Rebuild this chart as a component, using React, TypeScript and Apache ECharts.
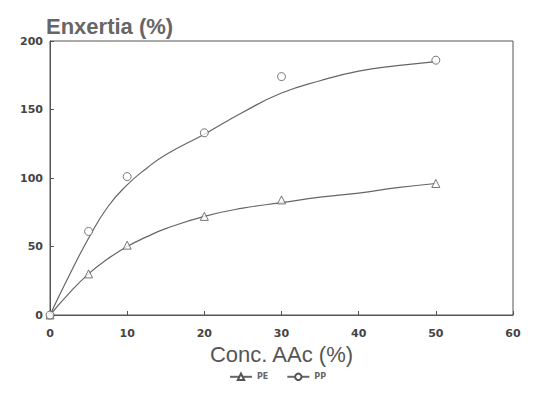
import React, { useEffect, useRef } from "react";
import * as echarts from "echarts";

const conc = [0, 5, 10, 20, 30, 50];
const pe = [0, 30, 51, 72, 84, 96];
const pp = [0, 61, 101, 133, 174, 186];
// fitted curves
const fitX = [0, 2.5, 5, 7.5, 10, 12.5, 15, 20, 25, 30, 35, 40, 45, 50];
const peFit = [0, 16, 30, 41, 50, 57, 63, 72, 78, 82, 86, 89, 93, 96];
const ppFit = [0, 29, 56, 79, 95, 107, 117, 132, 148, 162, 171, 178, 182, 185];

const pair = (xs: number[], ys: number[]) => xs.map((x, i) => [x, ys[i]]);

export default function App() {
  const ref = useRef<HTMLDivElement>(null);
  useEffect(() => {
    if (!ref.current) return;
    const chart = echarts.init(ref.current, undefined, { renderer: "svg" });
    const gray = "#555";
    const labelFont = { fontFamily: "DejaVu Sans", fontSize: 11, fontWeight: "bold", color: "#444" };
    chart.setOption({
      animation: false,
      backgroundColor: "#fff",
      title: {
        text: "Enxertia (%)",
        left: 33,
        top: 2,
        textStyle: { fontFamily: "Liberation Sans, Arial", fontSize: 22, fontWeight: "bold", color: "#666" },
      },
      legend: {
        bottom: 2,
        left: 216,
        itemWidth: 22,
        itemHeight: 8,
        itemGap: 18,
        textStyle: { fontFamily: "DejaVu Sans", fontSize: 8, color: "#666", fontWeight: "bold" },
        data: ["PE", "PP"],
      },
      grid: { left: 42, right: 31, top: 33, bottom: 73, show: true, borderColor: gray, borderWidth: 1 },
      xAxis: {
        type: "value",
        min: 0,
        max: 60,
        interval: 10,
        name: "Conc. AAc (%)",
        nameLocation: "middle",
        nameGap: 27,
        nameTextStyle: { fontFamily: "Liberation Sans, Arial", fontSize: 22, color: "#555" },
        axisLine: { lineStyle: { color: gray } },
        axisTick: { inside: true, length: 4, lineStyle: { color: gray } },
        axisLabel: { ...labelFont, margin: 13 },
        splitLine: { show: false },
      },
      yAxis: {
        type: "value",
        min: 0,
        max: 200,
        interval: 50,
        axisLine: { show: true, lineStyle: { color: gray } },
        axisTick: { show: true, inside: true, length: 4, lineStyle: { color: gray } },
        axisLabel: { ...labelFont, margin: 7 },
        splitLine: { show: false },
      },
      series: [
        {
          name: "PE",
          type: "line",
          smooth: true,
          data: pair(fitX, peFit),
          showSymbol: false,
          symbol: "triangle",
          symbolSize: 7,
          lineStyle: { color: "#666", width: 1.2 },
          itemStyle: { color: "#fff", borderColor: "#555", borderWidth: 1 },
        },
        {
          name: "PP",
          type: "line",
          smooth: true,
          data: pair(fitX, ppFit),
          showSymbol: false,
          symbol: "circle",
          symbolSize: 7,
          lineStyle: { color: "#666", width: 1.2 },
          itemStyle: { color: "#fff", borderColor: "#555", borderWidth: 1 },
        },
        {
          name: "PE points",
          type: "scatter",
          data: pair(conc, pe),
          symbol: "triangle",
          symbolSize: 8,
          itemStyle: { color: "#fff", borderColor: "#555", borderWidth: 1 },
          z: 5,
        },
        {
          name: "PP points",
          type: "scatter",
          data: pair(conc, pp),
          symbol: "circle",
          symbolSize: 8,
          itemStyle: { color: "#fff", borderColor: "#555", borderWidth: 1 },
          z: 5,
        },
      ],
    });
    return () => chart.dispose();
  }, []);
  return <div ref={ref} style={{ width: 536, height: 380 }} />;
}
